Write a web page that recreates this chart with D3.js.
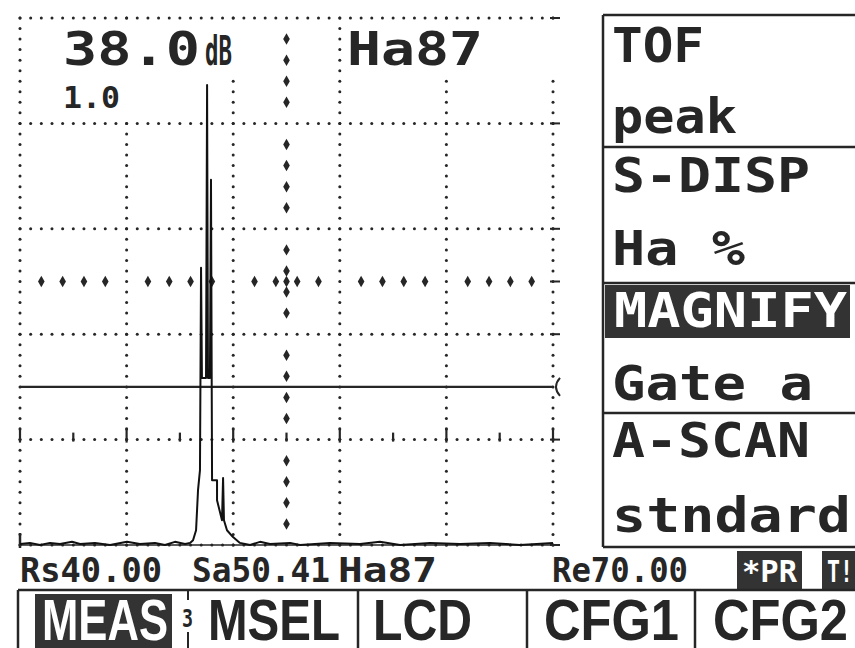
<!DOCTYPE html>
<html>
<head>
<meta charset="utf-8">
<script src="https://cdn.jsdelivr.net/npm/d3@7"></script>
<style>
  body { margin: 0; background: #fff; }
  svg { display: block; }
</style>
</head>
<body>
<div id="chart"></div>
<script>
// A-scan echo: time base in mm, amplitude in % screen height
const traceMm = [40.00, 40.56, 41.13, 41.69, 42.25, 42.93, 43.38, 44.22, 45.07, 46.02,
    46.75, 47.60, 48.16, 48.72, 49.29, 49.57, 49.74, 49.91, 50.02, 50.13,
    50.19, 50.24, 50.47, 50.53, 50.58, 50.69, 50.75, 50.81, 51.09,
    51.09, 51.37, 51.43, 51.48, 51.65, 51.99, 52.38, 52.95, 53.51, 54.07,
    55.20, 55.76, 57.45, 59.14, 60.26, 61.39, 63.08, 64.77, 66.45, 68.14, 70.00];
const tracePct = [0.2, 0.4, 0, 0.4, 0.2, 0.6, 0.2, 0.4, 0, 0.6,
    0.2, 0.4, 0, 0.6, 0.2, 0.4, 0.9, 2.8, 10.4, 14.2,
    52.6, 31.7, 31.7, 87.3, 31.7, 31.7, 69.3, 12.3, 12.3,
    8.5, 4.7, 12.7, 4.7, 2.8, 1.5, 0.4, 0, 0.6, 0.2,
    0.4, 0, 0.4, 0.2, 0.6, 0, 0.4, 0.2, 0.4, 0, 0.4];

const gridMm = [40, 46, 52, 58, 64, 70];
const gridPct = [0, 20, 40, 60, 80, 100];
const gateStart = 40, gateEnd = 70, gateLevel = 30;

const gainLabel = '38.0', gainUnit = 'dB', peakLabel = 'Ha87', scaleLabel = '1.0';
const sideLabels = ['TOF', 'peak', 'S-DISP', 'Ha %', 'MAGNIFY', 'Gate a', 'A-SCAN', 'stndard'];
const statusLabels = ['Rs40.00', 'Sa50.41', 'Ha87', 'Re70.00'];
const flagLabels = ['*PR', 'T!'];
const menuLabels = ['MEAS', 'MSEL', 'LCD', 'CFG1', 'CFG2'];

const W = 855, H = 648;
const ink = '#262626';
const lcd = '"DejaVu Sans Mono", monospace';

const svg = d3.select('#chart').append('svg')
    .attr('width', W)
    .attr('height', H);
svg.append('rect').attr('width', W).attr('height', H).attr('fill', '#fff');

const x = d3.scaleLinear().domain([40, 70]).range([20, 553]);
const y = d3.scaleLinear().domain([0, 100]).range([545, 18]);

const grid = svg.append('g');

// dotted graticule
gridMm.forEach(m => {
    grid.selectAll(null)
        .data(d3.range(0, 100.01, 2))
        .enter().append('circle')
        .attr('cx', x(m)).attr('cy', d => y(d))
        .attr('r', 1.5).attr('fill', ink);
});
gridPct.forEach(p => {
    grid.selectAll(null)
        .data(d3.range(40, 70.01, 0.6))
        .enter().append('circle')
        .attr('cx', d => x(d)).attr('cy', y(p))
        .attr('r', 1.5).attr('fill', ink);
});

// centre cross made of diamonds
const diamond = d3.symbol().type(d3.symbolDiamond).size(38);
grid.selectAll(null)
    .data(d3.range(0, 26).filter(k => k % 5 !== 0).map(k => 40 + k * 1.2))
    .enter().append('path')
    .attr('d', diamond)
    .attr('transform', d => `translate(${x(d)},${y(50)})`)
    .attr('fill', ink);
grid.selectAll(null)
    .data(d3.range(0, 26).filter(k => k % 5 !== 0).map(k => k * 4).concat([50]))
    .enter().append('path')
    .attr('d', diamond)
    .attr('transform', d => `translate(${x(55)},${y(d)})`)
    .attr('fill', ink);

// scale ticks on the 20 % line
grid.selectAll(null)
    .data(gridMm)
    .enter().append('line')
    .attr('x1', d => x(d)).attr('x2', d => x(d))
    .attr('y1', y(20) - 12).attr('y2', y(20) + 3)
    .attr('stroke', ink).attr('stroke-width', 2.2);
grid.selectAll(null)
    .data([43, 49, 55, 61, 67])
    .enter().append('line')
    .attr('x1', d => x(d)).attr('x2', d => x(d))
    .attr('y1', y(20) - 7).attr('y2', y(20) + 2)
    .attr('stroke', ink).attr('stroke-width', 2.2);

// short marks on the right edge
grid.selectAll(null)
    .data(gridPct.concat([50]))
    .enter().append('line')
    .attr('x1', x(70) - 3).attr('x2', x(70) + 7)
    .attr('y1', d => y(d)).attr('y2', d => y(d))
    .attr('stroke', ink).attr('stroke-width', 2);

// white areas behind the big readouts
[[55, 21, 185, 55], [55, 76, 80, 42], [343, 21, 213, 55]].forEach(r => {
    svg.append('rect').attr('x', r[0]).attr('y', r[1])
        .attr('width', r[2]).attr('height', r[3]).attr('fill', '#fff');
});

// gate a
svg.append('line')
    .attr('x1', x(gateStart)).attr('x2', x(gateEnd))
    .attr('y1', y(gateLevel)).attr('y2', y(gateLevel))
    .attr('stroke', ink).attr('stroke-width', 2.2);
svg.append('path')
    .attr('d', `M${x(gateEnd) + 7},${y(gateLevel) - 9} Q${x(gateEnd) - 1},${y(gateLevel)} ${x(gateEnd) + 7},${y(gateLevel) + 9}`)
    .attr('fill', 'none').attr('stroke', ink).attr('stroke-width', 2);

// baseline and echo trace
svg.append('line')
    .attr('x1', x(40)).attr('x2', x(70))
    .attr('y1', y(0)).attr('y2', y(0))
    .attr('stroke', ink).attr('stroke-width', 1.5);
svg.append('line')
    .attr('x1', x(40)).attr('x2', x(40))
    .attr('y1', y(0) - 12).attr('y2', y(0) + 3)
    .attr('stroke', ink).attr('stroke-width', 2.5);

const line = d3.line().x(d => x(d[0])).y(d => y(d[1]));
svg.append('path')
    .datum(d3.zip(traceMm, tracePct))
    .attr('d', line)
    .attr('fill', 'none')
    .attr('stroke', '#111')
    .attr('stroke-width', 2)
    .attr('stroke-linejoin', 'round');

// helper for fixed-width LCD text
function label(g, txt, tx, ty, size, width, opts = {}) {
    return g.append('text')
        .attr('x', tx).attr('y', ty)
        .attr('font-family', opts.family || lcd)
        .attr('font-weight', 'bold')
        .attr('font-size', size)
        .attr('fill', opts.fill || ink)
        .attr('textLength', width)
        .attr('lengthAdjust', 'spacingAndGlyphs')
        .text(txt);
}

// top readouts
label(svg, gainLabel, 63, 65, 46, 137);
label(svg, gainUnit, 205, 65, 40, 27);
label(svg, peakLabel, 347, 65, 46, 136);
label(svg, scaleLabel, 63, 108, 31, 57);

// right-hand menu panel
const panel = svg.append('g');
panel.append('line').attr('x1', 603).attr('x2', 603).attr('y1', 15).attr('y2', 547)
    .attr('stroke', ink).attr('stroke-width', 2.5);
[15, 147, 283, 413, 547].forEach(py => {
    panel.append('line').attr('x1', 603).attr('x2', W).attr('y1', py).attr('y2', py)
        .attr('stroke', ink).attr('stroke-width', 2.5);
});
panel.append('rect').attr('x', 605).attr('y', 285).attr('width', 245).attr('height', 53)
    .attr('fill', '#333');
const sideY = [62, 133, 192, 265, 327, 400, 457, 532];
const sideW = [92, 125, 198, 133, 233, 201, 198, 239];
sideLabels.forEach((t, i) => {
    label(panel, t, i === 4 ? 614 : 612, sideY[i], 48, sideW[i],
        { fill: i === 4 ? '#fff' : ink });
});

// status line
const statusX = [20, 192, 338, 552];
const statusW = [142, 138, 99, 136];
statusLabels.forEach((t, i) => label(svg, t, statusX[i], 582, 33, statusW[i]));
svg.append('rect').attr('x', 737).attr('y', 551).attr('width', 65).attr('height', 39).attr('fill', '#333');
svg.append('rect').attr('x', 822).attr('y', 551).attr('width', 40).attr('height', 39).attr('fill', '#333');
label(svg, flagLabels[0], 742, 582, 31, 55, { fill: '#fff' });
label(svg, flagLabels[1], 827, 582, 31, 26, { fill: '#fff' });

// soft-key row
const menu = svg.append('g');
menu.append('line').attr('x1', 18).attr('x2', W).attr('y1', 590).attr('y2', 590)
    .attr('stroke', ink).attr('stroke-width', 2.5);
menu.append('line').attr('x1', 18).attr('x2', 18).attr('y1', 590).attr('y2', H)
    .attr('stroke', ink).attr('stroke-width', 2.5);
[358, 527, 695].forEach(px => {
    menu.append('line').attr('x1', px).attr('x2', px).attr('y1', 590).attr('y2', H)
        .attr('stroke', ink).attr('stroke-width', 2.5);
});
[[590, 600], [632, 648]].forEach(s => {
    menu.append('line').attr('x1', 188).attr('x2', 188).attr('y1', s[0]).attr('y2', s[1])
        .attr('stroke', ink).attr('stroke-width', 2);
});
menu.append('rect').attr('x', 35).attr('y', 594).attr('width', 137).attr('height', 60).attr('fill', '#333');
label(menu, '3', 182, 627, 24, 11);
const menuX = [42, 208, 373, 544, 713];
const menuW = [126, 132, 99, 135, 135];
const sans = '"Liberation Sans", Arial, sans-serif';
menuLabels.forEach((t, i) => {
    label(menu, t, menuX[i], 640, 58, menuW[i], { family: sans, fill: i === 0 ? '#fff' : ink });
});
</script>
</body>
</html>
